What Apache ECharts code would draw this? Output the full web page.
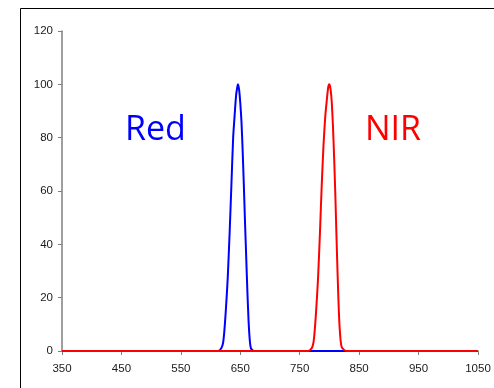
<!DOCTYPE html>
<html>
<head>
<meta charset="utf-8">
<script src="https://cdn.jsdelivr.net/npm/echarts@6/dist/echarts.min.js"></script>
<style>
  html, body { margin: 0; padding: 0; background: #fff; }
  #chart { width: 494px; height: 388px; }
</style>
</head>
<body>
<div id="chart"></div>
<script>
// Relative spectral response of the two bands (wavelength in nm, response in %)
const redWavelength = [350, 613, 618, 621, 623, 625, 627, 629, 632, 635, 638, 641, 643, 645, 646, 647, 648, 650, 652, 654, 656, 658, 660, 662, 664, 666, 668, 673, 1050];
const redResponse   = [0,   0,   1,   3,   7,   13,  20,  28,  44,  62,  80,  90,  96,  99,  100, 100, 98,  93,  86,  75,  62,  48,  35,  22,  11,  4,   1,   0,   0];

const nirWavelength = [350, 764, 770, 773, 775, 777, 779, 781, 784, 787, 790, 793, 796, 798, 800, 801, 802, 804, 806, 808, 810, 812, 814, 816, 818, 820, 822, 828, 1050];
const nirResponse   = [0,   0,   1,   3,   7,   13,  20,  28,  44,  62,  77,  88,  95,  99,  100, 100, 98,  93,  84,  72,  58,  42,  27,  14,  6,   2,   1,   0,   0];

const xTicks = [350, 450, 550, 650, 750, 850, 950, 1050];
const yTicks = [0, 20, 40, 60, 80, 100, 120];

const pairs = (xs, ys) => xs.map((x, i) => [x, ys[i]]);

const axisGray = '#7f7f7f';
const labelStyle = { color: '#1a1a1a', fontSize: 11.5, fontFamily: 'Liberation Sans, Arial, sans-serif' };

const chart = echarts.init(document.getElementById('chart'), null, { renderer: 'canvas' });
chart.setOption({
  animation: false,
  backgroundColor: '#fff',
  grid: { left: 62, top: 31, right: 16, bottom: 37, containLabel: false },
  xAxis: {
    type: 'value',
    min: xTicks[0],
    max: xTicks[xTicks.length - 1],
    interval: 100,
    axisLine: { show: true, onZero: false, lineStyle: { color: axisGray, width: 1.5 } },
    axisTick: { show: true, inside: false, length: 4, lineStyle: { color: axisGray, width: 1 } },
    axisLabel: Object.assign({ margin: 12, formatter: v => String(v) }, labelStyle),
    splitLine: { show: false }
  },
  yAxis: {
    type: 'value',
    min: yTicks[0],
    max: yTicks[yTicks.length - 1],
    interval: 20,
    axisLine: { show: true, lineStyle: { color: axisGray, width: 1.5 } },
    axisTick: { show: true, inside: false, length: 4, lineStyle: { color: axisGray, width: 1 } },
    axisLabel: Object.assign({ margin: 9, formatter: v => String(v) }, labelStyle),
    splitLine: { show: false }
  },
  series: [
    {
      name: 'Red',
      type: 'line',
      data: pairs(redWavelength, redResponse),
      showSymbol: false,
      smooth: 0.2,
      lineStyle: { color: '#0000ff', width: 2 },
      z: 2
    },
    {
      name: 'NIR',
      type: 'line',
      data: pairs(nirWavelength, nirResponse),
      showSymbol: false,
      smooth: 0.2,
      lineStyle: { color: '#ff0000', width: 2 },
      z: 3
    }
  ],
  graphic: [
    {
      type: 'rect',
      shape: { x: 20.5, y: 8.5, width: 500, height: 400 },
      style: { fill: 'none', stroke: '#000', lineWidth: 1 },
      silent: true
    },
    {
      type: 'text',
      left: 125, top: 113,
      style: { text: 'Red', fill: '#0000ff', font: '34px "Open Sans", sans-serif' }
    },
    {
      type: 'text',
      left: 365, top: 113,
      style: { text: 'NIR', fill: '#ff0000', font: '34px "Open Sans", sans-serif' }
    }
  ]
});
</script>
</body>
</html>
